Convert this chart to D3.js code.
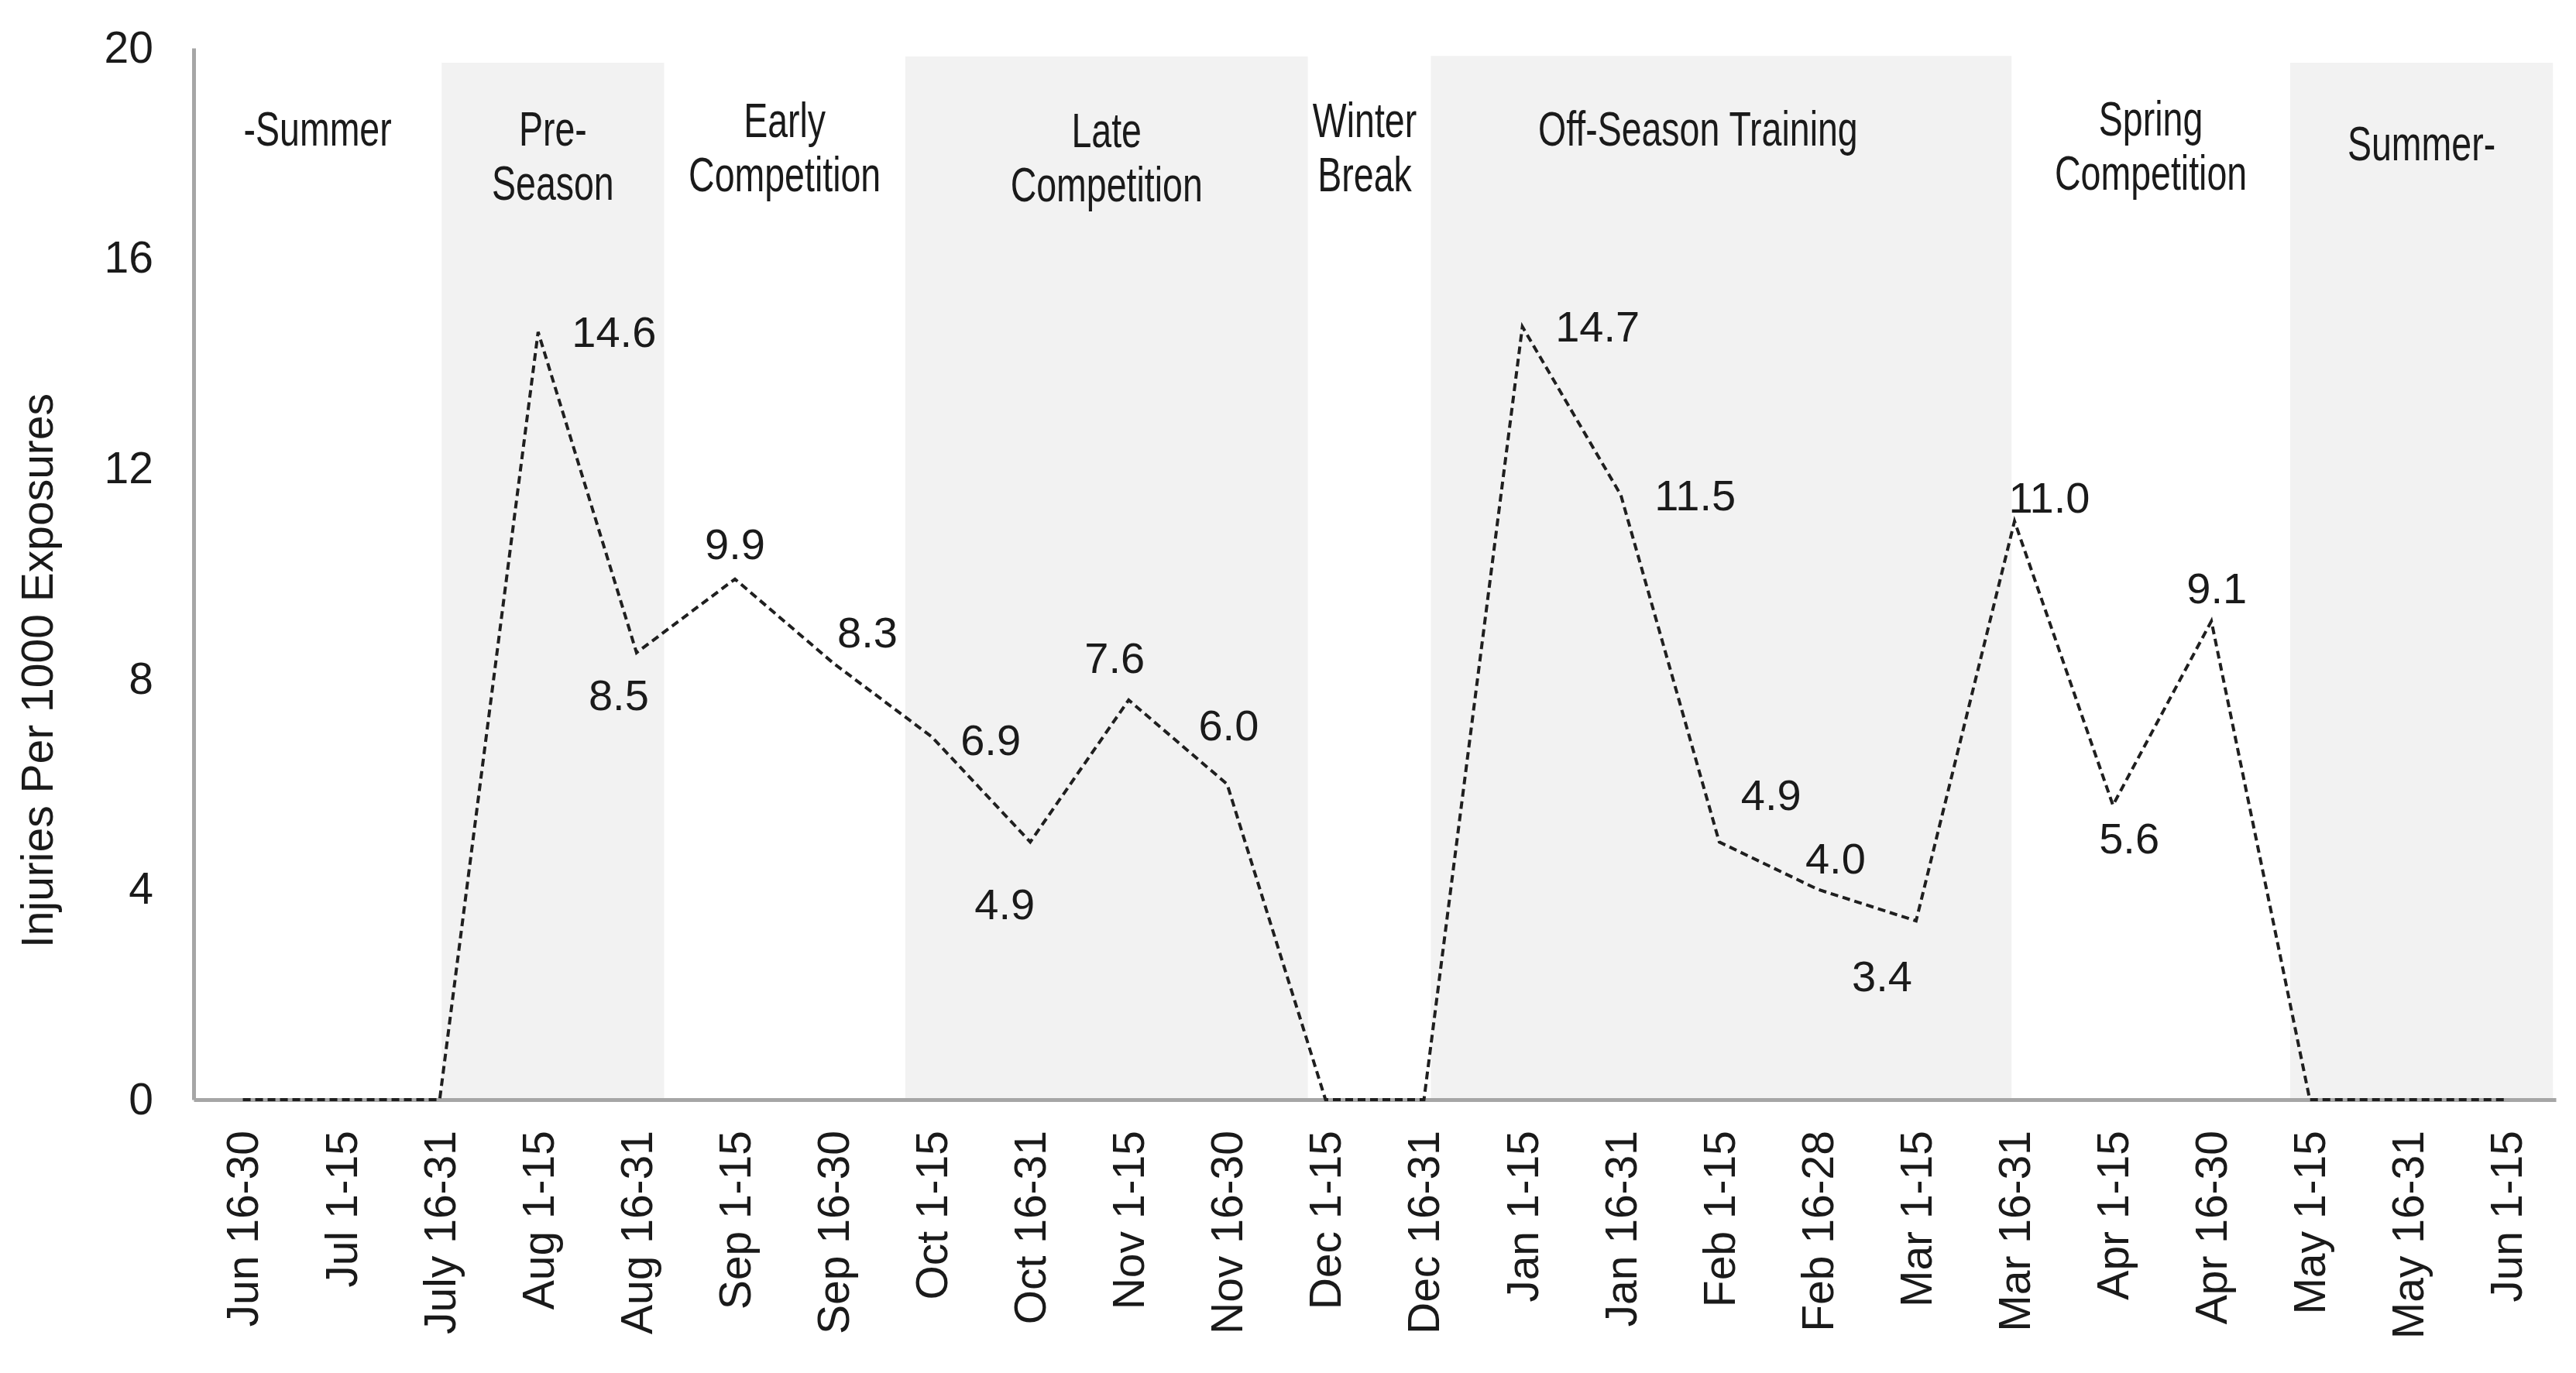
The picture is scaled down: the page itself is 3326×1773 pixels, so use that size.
<!DOCTYPE html>
<html>
<head>
<meta charset="utf-8">
<script src="https://cdn.jsdelivr.net/npm/d3@7"></script>
<style>
  body { margin: 0; background: #fff; }
  text { font-family: "Liberation Sans", Arial, sans-serif; fill: #1a1a1a; }
</style>
</head>
<body>
<svg id="chart"></svg>
<script>
// half-month periods along the x axis
const periods = [
  "Jun 16-30", "Jul 1-15", "July 16-31", "Aug 1-15", "Aug 16-31", "Sep 1-15",
  "Sep 16-30", "Oct 1-15", "Oct 16-31", "Nov 1-15", "Nov 16-30", "Dec 1-15",
  "Dec 16-31", "Jan 1-15", "Jan 16-31", "Feb 1-15", "Feb 16-28", "Mar 1-15",
  "Mar 16-31", "Apr 1-15", "Apr 16-30", "May 1-15", "May 16-31", "Jun 1-15"
];

// injuries per 1000 exposures
const rates = [
  0, 0, 0, 14.6, 8.5, 9.9, 8.3, 6.9, 4.9, 7.6, 6.0, 0,
  0, 14.7, 11.5, 4.9, 4.0, 3.4, 11.0, 5.6, 9.1, 0, 0, 0
];

const yTicks = [0, 4, 8, 12, 16, 20];

// season names and their spans, in period units along the axis
const seasonNames = [
  ["-Summer"], ["Pre-", "Season"], ["Early", "Competition"], ["Late", "Competition"],
  ["Winter", "Break"], ["Off-Season Training"], ["Spring", "Competition"], ["Summer-"]
];
const seasonStart = [0, 2.52, 4.78, 7.23, 11.32, 12.57, 18.47, 21.3];
const seasonEnd = [2.52, 4.78, 7.23, 11.32, 12.57, 18.47, 21.3, 23.97];
const seasonShaded = [false, true, false, true, false, true, false, true];
const seasonTop = [0, 19.72, 0, 19.84, 0, 19.85, 0, 19.72];

// layout-only tweaks for the text
const seasonLabelY = [188, 188, 177, 190, 177, 188, 175, 207];
const seasonLabelDx = [0, 0, 0, 0, -6, -30, 0, 0];
const labelNudge = [
  null, null, null, [98, 0], [-23, 55], [0, -45], [44, -40], [76, 4],
  [-33, 80], [-18, -55], [2, -76], null, null, [97, 0], [96, 0], [67, -61],
  [23, -40], [-44, 71], [45, -31], [21, 43], [7, -43], null, null, null
];

const width = 3326;
const height = 1773;
const margin = { top: 62, right: 26, bottom: 353, left: 250 };

const svg = d3.select("#chart").attr("width", width).attr("height", height);

const x = d3.scaleBand()
  .domain(periods)
  .range([margin.left, width - margin.right])
  .padding(0);

const xs = d3.scaleLinear()
  .domain([0, periods.length])
  .range([margin.left, width - margin.right]);

const y = d3.scaleLinear()
  .domain([0, 20])
  .range([height - margin.bottom, margin.top]);

const cx = (d) => x(d) + x.bandwidth() / 2;

// shaded season backgrounds
svg.append("g")
  .selectAll("rect")
  .data(d3.range(seasonNames.length).filter((i) => seasonShaded[i]))
  .join("rect")
  .attr("x", (i) => xs(seasonStart[i]))
  .attr("width", (i) => xs(seasonEnd[i]) - xs(seasonStart[i]))
  .attr("y", (i) => y(seasonTop[i]))
  .attr("height", (i) => y(0) - y(seasonTop[i]))
  .attr("fill", "#f2f2f2");

// season labels (condensed like the original text boxes)
const seasonG = svg.append("g")
  .selectAll("text")
  .data(d3.range(seasonNames.length))
  .join("text")
  .attr("transform", (i) =>
    `translate(${(xs(seasonStart[i]) + xs(seasonEnd[i])) / 2 + seasonLabelDx[i]},${seasonLabelY[i]}) scale(0.75,1)`)
  .attr("text-anchor", "middle")
  .style("font-size", "62px");

seasonG.selectAll("tspan")
  .data((i) => seasonNames[i])
  .join("tspan")
  .attr("x", 0)
  .attr("dy", (d, j) => (j === 0 ? 0 : 70))
  .text((d) => d);

// y axis
const yAxis = svg.append("g")
  .attr("transform", `translate(${margin.left},0)`)
  .call(d3.axisLeft(y).tickValues(yTicks).tickSize(0).tickPadding(52).tickFormat(d3.format("d")));
yAxis.select(".domain").attr("stroke", "#a6a6a6").attr("stroke-width", 5);
yAxis.selectAll("text").style("font-size", "57px").attr("fill", "#1a1a1a");

// x axis
const xAxis = svg.append("g")
  .attr("transform", `translate(0,${y(0)})`)
  .call(d3.axisBottom(x).tickSize(0).tickSizeOuter(0));
xAxis.select(".domain").attr("stroke", "#a6a6a6").attr("stroke-width", 5);
xAxis.selectAll("text")
  .attr("transform", "rotate(-90)")
  .attr("x", -40)
  .attr("y", 0)
  .attr("dy", "0.35em")
  .attr("text-anchor", "end")
  .attr("fill", "#1a1a1a")
  .style("font-size", "57px");

// y axis title
svg.append("text")
  .attr("transform", `translate(48,${(y(0) + y(20)) / 2 + 125}) rotate(-90)`)
  .attr("text-anchor", "middle")
  .attr("dy", "0.35em")
  .style("font-size", "57px")
  .text("Injuries Per 1000 Exposures");

// dashed rate line
const line = d3.line()
  .x((d, i) => cx(periods[i]))
  .y((d) => y(d));

svg.append("path")
  .datum(rates)
  .attr("fill", "none")
  .attr("stroke", "#1f1f1f")
  .attr("stroke-width", 4)
  .attr("stroke-dasharray", "10,6")
  .attr("d", line);

// value labels
svg.append("g")
  .selectAll("text")
  .data(d3.range(rates.length).filter((i) => labelNudge[i]))
  .join("text")
  .attr("x", (i) => cx(periods[i]) + labelNudge[i][0])
  .attr("y", (i) => y(rates[i]) + labelNudge[i][1])
  .attr("dy", "0.35em")
  .attr("text-anchor", "middle")
  .style("font-size", "56px")
  .attr("fill", "#262626")
  .text((i) => d3.format(".1f")(rates[i]));
</script>
</body>
</html>
